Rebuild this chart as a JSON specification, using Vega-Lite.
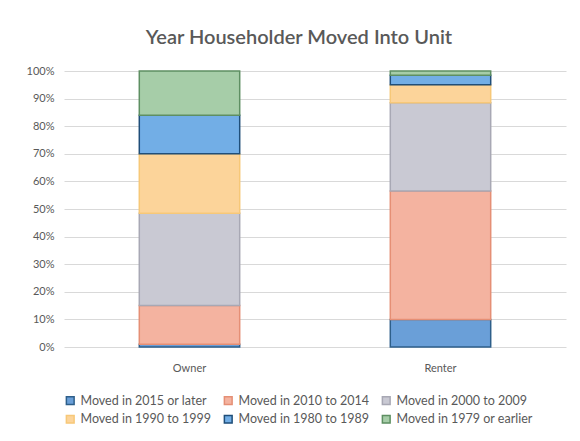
{
  "$schema": "https://vega.github.io/schema/vega-lite/v6.json",
  "width": 502,
  "height": 276,
  "autosize": {"type": "none"},
  "padding": {"left": 64, "top": 71, "right": 14, "bottom": 94},
  "background": "white",
  "title": {
    "text": "Year Householder Moved Into Unit",
    "fontSize": 20,
    "font": "Lato",
    "fontWeight": 600,
    "color": "#595959",
    "anchor": "middle",
    "dx": -16,
    "offset": 17
  },
  "data": {
    "values": [
      {"tenure": "Owner", "period": "Moved in 2015 or later", "o": 1, "pct": 1},
      {"tenure": "Owner", "period": "Moved in 2010 to 2014", "o": 2, "pct": 14},
      {"tenure": "Owner", "period": "Moved in 2000 to 2009", "o": 3, "pct": 33.5},
      {"tenure": "Owner", "period": "Moved in 1990 to 1999", "o": 4, "pct": 21.5},
      {"tenure": "Owner", "period": "Moved in 1980 to 1989", "o": 5, "pct": 14},
      {"tenure": "Owner", "period": "Moved in 1979 or earlier", "o": 6, "pct": 16},
      {"tenure": "Renter", "period": "Moved in 2015 or later", "o": 1, "pct": 10},
      {"tenure": "Renter", "period": "Moved in 2010 to 2014", "o": 2, "pct": 46.5},
      {"tenure": "Renter", "period": "Moved in 2000 to 2009", "o": 3, "pct": 32},
      {"tenure": "Renter", "period": "Moved in 1990 to 1999", "o": 4, "pct": 6.5},
      {"tenure": "Renter", "period": "Moved in 1980 to 1989", "o": 5, "pct": 3.5},
      {"tenure": "Renter", "period": "Moved in 1979 or earlier", "o": 6, "pct": 1.5}
    ]
  },
  "mark": {"type": "bar", "strokeWidth": 1.5},
  "encoding": {
    "x": {
      "field": "tenure",
      "type": "nominal",
      "scale": {"paddingInner": 0.6, "paddingOuter": 0.3},
      "axis": {
        "title": null,
        "labelAngle": 0,
        "ticks": false,
        "domain": false,
        "labelPadding": 15,
        "labelFont": "Lato",
        "labelFontSize": 11,
        "labelColor": "#595959"
      }
    },
    "y": {
      "field": "pct",
      "type": "quantitative",
      "stack": "normalize",
      "scale": {"domain": [0, 1]},
      "axis": {
        "title": null,
        "format": ".0%",
        "values": [0, 0.1, 0.2, 0.3, 0.4, 0.5, 0.6, 0.7, 0.8, 0.9, 1],
        "grid": true,
        "gridColor": "#d9d9d9",
        "domain": false,
        "ticks": false,
        "labelPadding": 10,
        "labelFont": "Lato",
        "labelFontSize": 11,
        "labelColor": "#595959"
      }
    },
    "order": {"field": "o", "type": "quantitative"},
    "fill": {
      "field": "period",
      "type": "nominal",
      "scale": {
        "domain": ["Moved in 2015 or later", "Moved in 2010 to 2014", "Moved in 2000 to 2009", "Moved in 1990 to 1999", "Moved in 1980 to 1989", "Moved in 1979 or earlier"],
        "range": ["#6a9fd8", "#f4b3a0", "#c9c9d3", "#fcd49a", "#72aee6", "#a6cda8"]
      },
      "legend": {
        "title": null,
        "orient": "bottom",
        "columns": 3,
        "direction": "horizontal",
        "symbolType": "square",
        "symbolSize": 60,
        "labelFont": "Lato",
        "labelFontSize": 12.5,
        "labelColor": "#595959",
        "columnPadding": 9,
        "rowPadding": 4,
        "offset": 21
      }
    },
    "stroke": {
      "field": "period",
      "type": "nominal",
      "scale": {
        "domain": ["Moved in 2015 or later", "Moved in 2010 to 2014", "Moved in 2000 to 2009", "Moved in 1990 to 1999", "Moved in 1980 to 1989", "Moved in 1979 or earlier"],
        "range": ["#2e5f8a", "#e58f75", "#a8a8b4", "#f7c878", "#1f4e79", "#5e8f62"]
      },
      "legend": {
        "title": null,
        "orient": "bottom",
        "columns": 3,
        "direction": "horizontal",
        "symbolType": "square",
        "symbolSize": 60,
        "labelFont": "Lato",
        "labelFontSize": 12.5,
        "labelColor": "#595959",
        "columnPadding": 9,
        "rowPadding": 4,
        "offset": 21
      }
    }
  },
  "config": {"view": {"stroke": null}}
}
